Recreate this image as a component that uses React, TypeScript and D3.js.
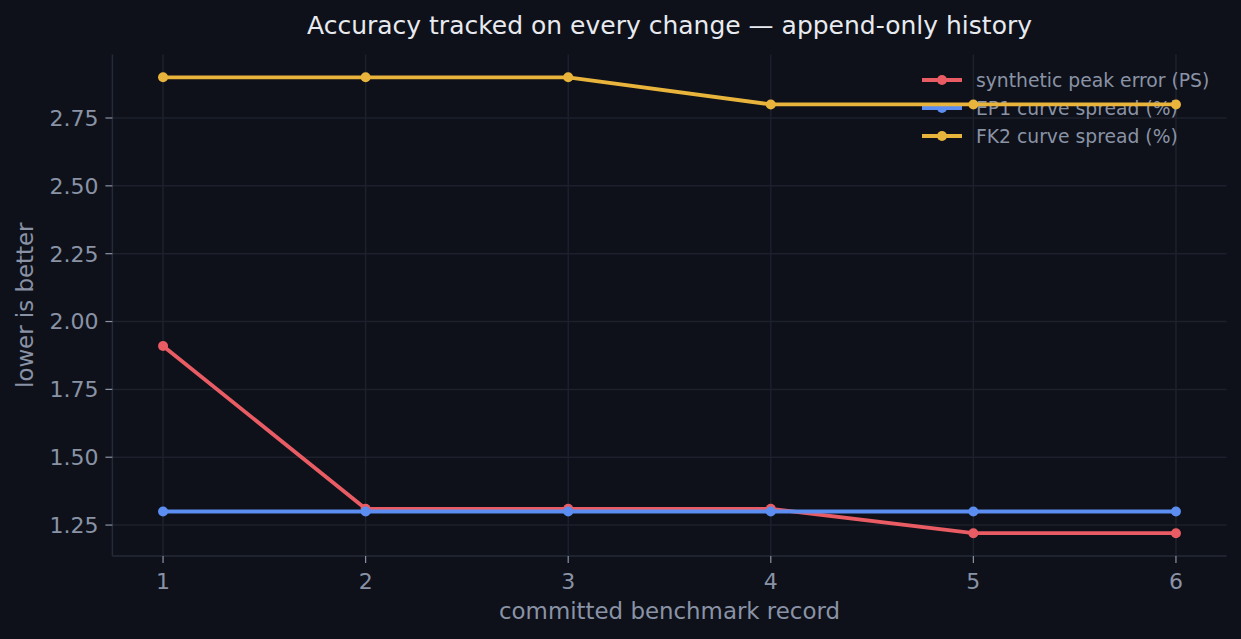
import React from "react";
import * as d3 from "d3";

const records = [1, 2, 3, 4, 5, 6];
const peakError = [1.91, 1.31, 1.31, 1.31, 1.22, 1.22];
const ep1Spread = [1.3, 1.3, 1.3, 1.3, 1.3, 1.3];
const fk2Spread = [2.9, 2.9, 2.9, 2.8, 2.8, 2.8];
const yTicks = [1.25, 1.5, 1.75, 2.0, 2.25, 2.5, 2.75];
const seriesNames = ["synthetic peak error (PS)", "EP1 curve spread (%)", "FK2 curve spread (%)"];
const seriesColors = ["#e95c64", "#5b8ef0", "#e9b43c"];

const W = 1241;
const H = 639;
const BG = "#0e1119";
const GRID = "#1d212c";
const TEXT = "#8a93a6";
const FONT = "'DejaVu Sans', sans-serif";

export default function App() {
  const series = [peakError, ep1Spread, fk2Spread];
  const all = series.flat();
  const ymin = d3.min(all)!;
  const ymax = d3.max(all)!;
  const ypad = (ymax - ymin) * 0.05;
  const left = 112.4, right = 1226.6, top = 54.5, bottom = 556;
  const x = d3.scaleLinear().domain([0.75, 6.25]).range([left, right]);
  const y = d3.scaleLinear().domain([ymin - ypad, ymax + ypad]).range([bottom, top]);
  const line = d3.line<number>().x((_, i) => x(records[i])).y((d) => y(d));

  return (
    <div style={{ position: "absolute", left: 0, top: 0, width: W, height: H, background: BG }}>
      <svg width={W} height={H} style={{ display: "block", fontFamily: FONT }}>
        <rect width={W} height={H} fill={BG} />
        {/* grid */}
        {records.map((r) => (
          <line key={"gx" + r} x1={x(r)} x2={x(r)} y1={top} y2={bottom} stroke={GRID} strokeWidth={1.5} />
        ))}
        {yTicks.map((t) => (
          <line key={"gy" + t} x1={left} x2={right} y1={y(t)} y2={y(t)} stroke={GRID} strokeWidth={1.5} />
        ))}
        {/* spines */}
        <line x1={left} x2={left} y1={top} y2={bottom} stroke="#262a36" strokeWidth={1.5} />
        <line x1={left} x2={right} y1={bottom} y2={bottom} stroke="#262a36" strokeWidth={1.5} />
        {/* ticks */}
        {yTicks.map((t) => (
          <g key={"yt" + t}>
            <line x1={left - 7} x2={left} y1={y(t)} y2={y(t)} stroke={TEXT} strokeWidth={1.2} />
            <text x={left - 14} y={y(t)} dy="0.36em" textAnchor="end" fill={TEXT} fontSize={22}>
              {d3.format(".2f")(t)}
            </text>
          </g>
        ))}
        {records.map((r) => (
          <g key={"xt" + r}>
            <line x1={x(r)} x2={x(r)} y1={bottom} y2={bottom + 7} stroke={TEXT} strokeWidth={1.2} />
            <text x={x(r)} y={589} textAnchor="middle" fill={TEXT} fontSize={22}>
              {r}
            </text>
          </g>
        ))}
        {/* axis labels */}
        <text x={(left + right) / 2} y={619} textAnchor="middle" fill={TEXT} fontSize={22.9}>
          committed benchmark record
        </text>
        <text
          transform={`translate(33, ${(top + bottom) / 2}) rotate(-90)`}
          textAnchor="middle"
          fill={TEXT}
          fontSize={22.9}
        >
          lower is better
        </text>
        {/* title */}
        <text x={(left + right) / 2} y={34} textAnchor="middle" fill="#e8eaf0" fontSize={25}>
          Accuracy tracked on every change — append-only history
        </text>
        {/* legend */}
        {seriesNames.map((n, i) => {
          const ly = 80 + i * 28;
          return (
            <g key={"lg" + i}>
              <line x1={922} x2={962} y1={ly} y2={ly} stroke={seriesColors[i]} strokeWidth={3.8} />
              <circle cx={942} cy={ly} r={5} fill={seriesColors[i]} />
              <text x={976} y={ly} dy="0.36em" fill={TEXT} fontSize={18.75}>
                {n}
              </text>
            </g>
          );
        })}
        {/* series */}
        {series.map((s, i) => (
          <g key={"s" + i}>
            <path d={line(s)!} fill="none" stroke={seriesColors[i]} strokeWidth={3.8} strokeLinejoin="round" />
            {s.map((v, j) => (
              <circle key={j} cx={x(records[j])} cy={y(v)} r={5} fill={seriesColors[i]} />
            ))}
          </g>
        ))}
      </svg>
    </div>
  );
}
